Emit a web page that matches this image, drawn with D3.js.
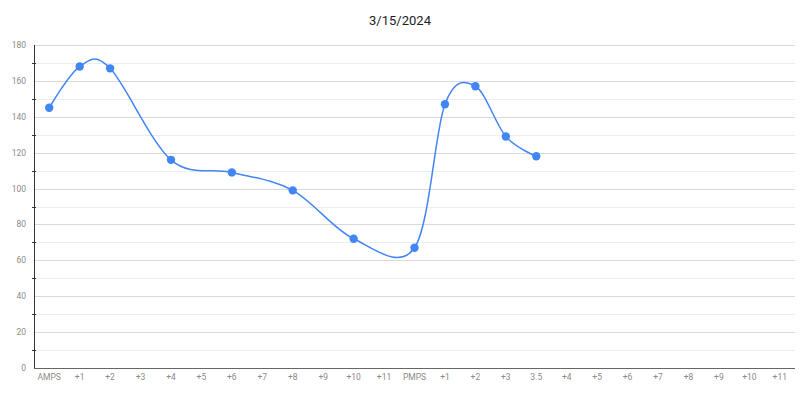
<!DOCTYPE html>
<html>
<head>
<meta charset="utf-8">
<script src="https://cdn.jsdelivr.net/npm/d3@7"></script>
<style>
  body { margin: 0; background: #fff; }
  svg text { font-family: Roboto, "Noto Sans", sans-serif; }
</style>
</head>
<body>
<svg id="svg"></svg>
<script>
const title = '3/15/2024';
const categories = ['AMPS', '+1', '+2', '+3', '+4', '+5', '+6', '+7', '+8', '+9', '+10', '+11',
  'PMPS', '+1', '+2', '+3', '3.5', '+4', '+5', '+6', '+7', '+8', '+9', '+10', '+11'];
const values = [145, 168, 167, null, 116, null, 109, null, 99, null, 72, null,
  67, 147, 157, 129, 118, null, null, null, null, null, null, null, null];
const yTicks = [0, 20, 40, 60, 80, 100, 120, 140, 160, 180];
const yMinorTicks = [10, 30, 50, 70, 90, 110, 130, 150, 170];

const width = 800, height = 393;
const margin = {top: 45, right: 5, bottom: 25, left: 34};

const svg = d3.select('#svg')
  .attr('width', width)
  .attr('height', height);

const x = d3.scaleBand()
  .domain(d3.range(categories.length))
  .range([margin.left, width - margin.right]);

const y = d3.scaleLinear()
  .domain([0, 180])
  .range([height - margin.bottom, margin.top]);

// title
svg.append('text')
  .attr('x', width / 2)
  .attr('y', 25)
  .attr('text-anchor', 'middle')
  .style('font-size', '13px')
  .style('fill', '#222')
  .text(title);

// gridlines
svg.append('g').selectAll('line.minor')
  .data(yMinorTicks)
  .join('line')
  .attr('x1', margin.left).attr('x2', width - margin.right)
  .attr('y1', d => Math.round(y(d)) + 0.5).attr('y2', d => Math.round(y(d)) + 0.5)
  .style('stroke', '#ededed');

svg.append('g').selectAll('line.major')
  .data(yTicks.slice(1))
  .join('line')
  .attr('x1', margin.left).attr('x2', width - margin.right)
  .attr('y1', d => Math.round(y(d)) + 0.5).attr('y2', d => Math.round(y(d)) + 0.5)
  .style('stroke', '#d9d9d9');

// y labels
svg.append('g').selectAll('text')
  .data(yTicks)
  .join('text')
  .attr('x', 26)
  .attr('y', d => y(d) + 3)
  .attr('text-anchor', 'end')
  .style('font-size', '8.5px')
  .style('fill', '#8a8a8a')
  .text(d => d);

// y axis line and minor ticks
svg.append('line')
  .attr('x1', margin.left + 0.5).attr('x2', margin.left + 0.5)
  .attr('y1', margin.top).attr('y2', height - margin.bottom)
  .style('stroke', '#333');

svg.append('g').selectAll('line')
  .data(yMinorTicks)
  .join('line')
  .attr('x1', margin.left - 2).attr('x2', margin.left + 2)
  .attr('y1', d => Math.round(y(d)) + 0.5).attr('y2', d => Math.round(y(d)) + 0.5)
  .style('stroke', '#333');

// x axis line
svg.append('line')
  .attr('x1', margin.left).attr('x2', width - margin.right)
  .attr('y1', y(0) + 0.5).attr('y2', y(0) + 0.5)
  .style('stroke', '#666');

// x labels
svg.append('g').selectAll('text')
  .data(categories)
  .join('text')
  .attr('x', (d, i) => x(i) + x.bandwidth() / 2)
  .attr('y', height - margin.bottom + 12)
  .attr('text-anchor', 'middle')
  .style('font-size', '8.5px')
  .style('fill', '#8a8a8a')
  .text(d => d);

// line through non-null points
const pts = values.map((v, i) => ({i: i, v: v})).filter(d => d.v !== null);

const line = d3.line()
  .x(d => x(d.i) + x.bandwidth() / 2)
  .y(d => y(d.v))
  .curve(d3.curveCatmullRom.alpha(0));

svg.append('path')
  .datum(pts)
  .attr('d', line)
  .style('fill', 'none')
  .style('stroke', '#4285f4')
  .style('stroke-width', 1.5);

svg.append('g').selectAll('circle')
  .data(pts)
  .join('circle')
  .attr('cx', d => x(d.i) + x.bandwidth() / 2)
  .attr('cy', d => y(d.v))
  .attr('r', 4.2)
  .style('fill', '#4285f4');
</script>
</body>
</html>
